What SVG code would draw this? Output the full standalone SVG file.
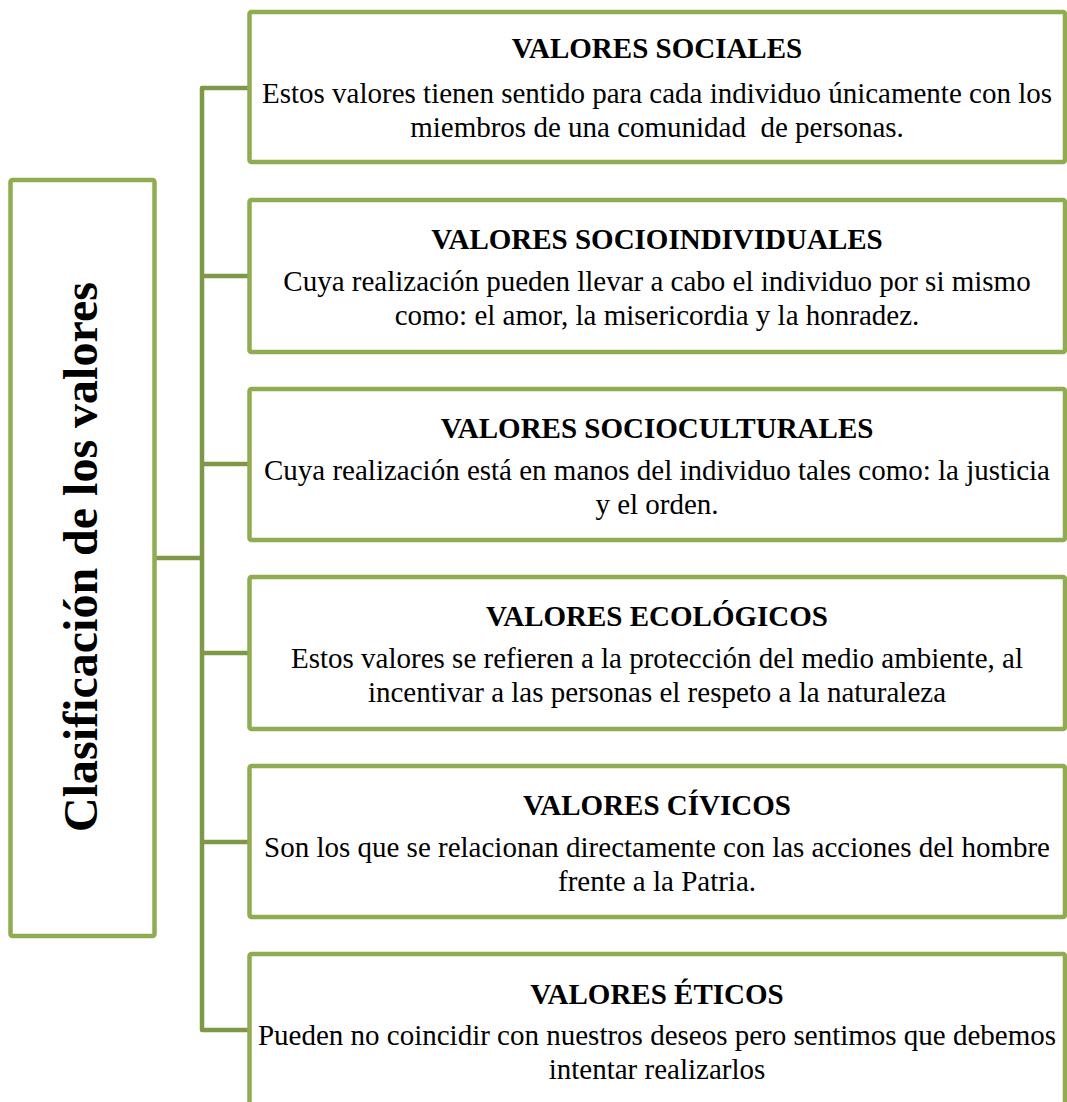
<svg xmlns="http://www.w3.org/2000/svg" width="1067" height="1102" viewBox="0 0 1067 1102">
<style>
.box{fill:#fff;stroke:#8FAD50;stroke-width:4.5;stroke-linejoin:round}
.con{fill:none;stroke:#7E9848;stroke-width:4.5;stroke-linejoin:round}
.t{font-family:"Liberation Serif","Times New Roman",serif;font-size:29px;font-weight:bold;fill:#000;text-anchor:middle}
.b{font-family:"Liberation Serif","Times New Roman",serif;font-size:29px;fill:#000;text-anchor:middle;white-space:pre}
.main{font-family:"Liberation Serif","Times New Roman",serif;font-size:48px;font-weight:bold;fill:#000;text-anchor:middle}
</style>
<rect width="1067" height="1102" fill="#fff"/>
<g id="connectors">
<path class="con" d="M249,88 H202 V1030 H249"/>
<path class="con" d="M202,276 H249"/>
<path class="con" d="M202,464 H249"/>
<path class="con" d="M202,653 H249"/>
<path class="con" d="M202,842 H249"/>
<path class="con" d="M154,558 H202"/>
</g>
<g id="root">
<rect class="box" x="10.5" y="180" width="144" height="756" rx="2"/>
<text class="main" transform="translate(97,557) rotate(-90)">Clasificación de los valores</text>
</g>
<g id="sociales">
<rect class="box" x="249.5" y="12" width="815.5" height="150" rx="2"/>
<text class="t" x="657" y="58">VALORES SOCIALES</text>
<text class="b" x="657" y="103">Estos valores tienen sentido para cada individuo únicamente con los</text>
<text class="b" x="657" y="137">miembros de una comunidad  de personas.</text>
</g>
<g id="socioindividuales">
<rect class="box" x="249.5" y="200" width="815.5" height="152" rx="2"/>
<text class="t" x="657" y="249">VALORES SOCIOINDIVIDUALES</text>
<text class="b" x="657" y="291">Cuya realización pueden llevar a cabo el individuo por si mismo</text>
<text class="b" x="657" y="325">como: el amor, la misericordia y la honradez.</text>
</g>
<g id="socioculturales">
<rect class="box" x="249.5" y="389" width="815.5" height="151" rx="2"/>
<text class="t" x="657" y="438">VALORES SOCIOCULTURALES</text>
<text class="b" x="657" y="480">Cuya realización está en manos del individuo tales como: la justicia</text>
<text class="b" x="657" y="514">y el orden.</text>
</g>
<g id="ecologicos">
<rect class="box" x="249.5" y="577" width="815.5" height="152" rx="2"/>
<text class="t" x="657" y="626">VALORES ECOLÓGICOS</text>
<text class="b" x="657" y="668">Estos valores se refieren a la protección del medio ambiente, al</text>
<text class="b" x="657" y="702">incentivar a las personas el respeto a la naturaleza</text>
</g>
<g id="civicos">
<rect class="box" x="249.5" y="766" width="815.5" height="151" rx="2"/>
<text class="t" x="657" y="815">VALORES CÍVICOS</text>
<text class="b" x="657" y="857">Son los que se relacionan directamente con las acciones del hombre</text>
<text class="b" x="657" y="891">frente a la Patria.</text>
</g>
<g id="eticos">
<rect class="box" x="249.5" y="954" width="815.5" height="170" rx="2"/>
<text class="t" x="657" y="1004">VALORES ÉTICOS</text>
<text class="b" x="657" y="1045">Pueden no coincidir con nuestros deseos pero sentimos que debemos</text>
<text class="b" x="657" y="1079">intentar realizarlos</text>
</g>
</svg>
